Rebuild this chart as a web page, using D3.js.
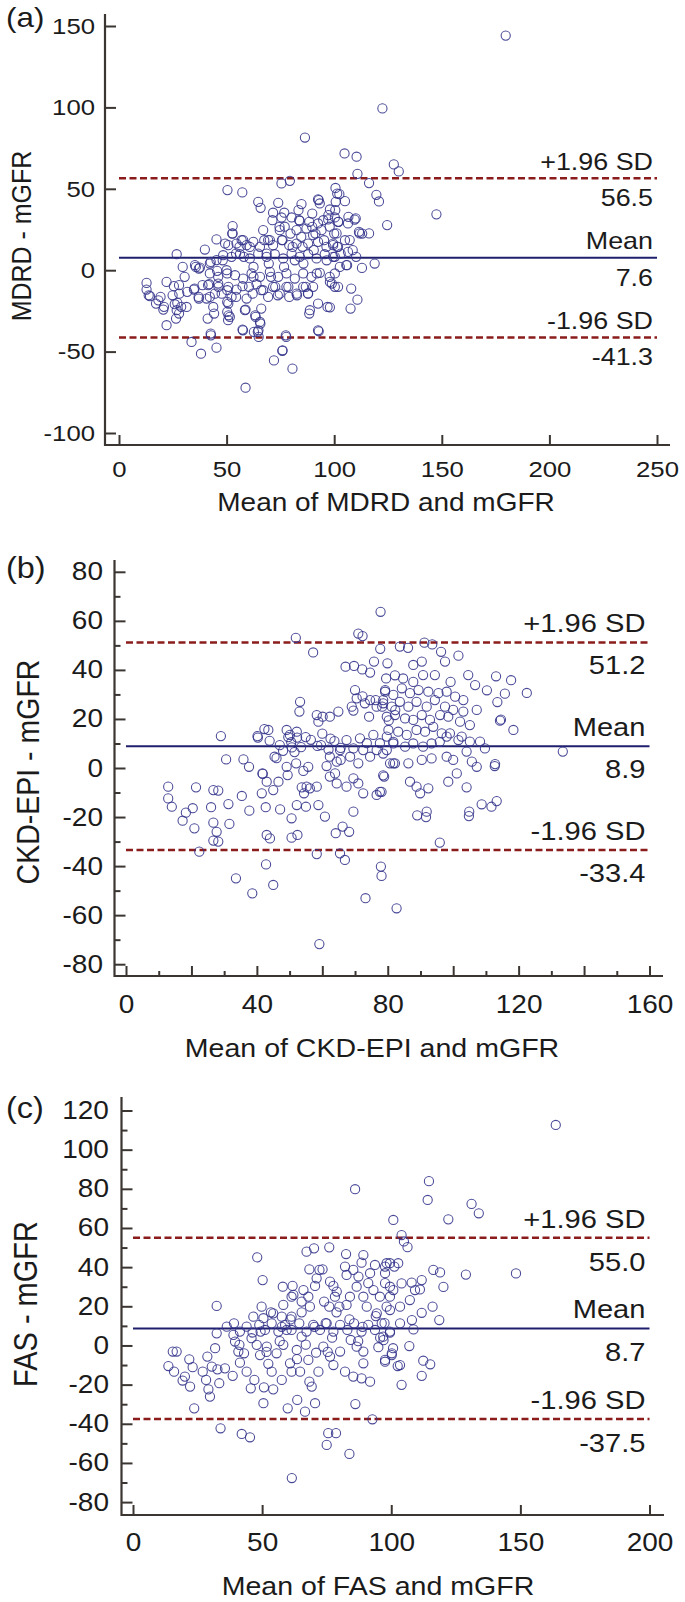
<!DOCTYPE html>
<html>
<head>
<meta charset="utf-8">
<script src="https://cdn.jsdelivr.net/npm/d3@7"></script>
<style>
  body { margin: 0; background: #fff; }
  text { font-family: "Liberation Sans", Arial, sans-serif; fill: #1b1b1b; }
</style>
</head>
<body>
<svg id="chart" width="685" height="1602"></svg>
<script>
// ---- data: [mean of the two methods, difference] ----
let mdrdPoints = [
  [179.7,144.1],[122.4,99.4],[86.4,81.5],[104.8,71.7],[110.4,69.7],[127.7,65],[130,60.7],[110.8,59.2],[116.2,53.5],[119.6,46.3],
  [120.8,42.2],[147.5,34.3],[124.6,27.7],[116.2,22.6],[118.8,4.1],[112.9,1.4],[107.9,-11.3],[110.8,-18.1],[107.6,-23.6],[101.8,-10.2],[98,-22.8],
  [50.4,49.2],[57.3,47.8],[75.5,53.3],[79.4,54.9],[64.7,42],[65.8,38.3],[71.6,35.3],[74,41.4],[76.8,35.3],[84.8,40.6],[83.4,36.9],
  [92.5,43.5],[93.3,41],[98,37.3],[100.7,42],[101.4,47.1],[102.4,46.7],[105,42.4],[100.6,50.5],
  [71.3,30.7],[75.5,32.4],[80.2,32.4],[84,30.3],[88.4,29.7],[92.5,28.7],[97.2,31.2],[100.3,32.4],[52.8,27.1],[52.8,22.6],[45.3,18.9],
  [39.9,12.7],[67,24.6],[70.1,18.5],[74.7,24.6],[77,26.7],[82.5,24.6],[87.1,25.6],[90.2,21.5],[94.1,24.6],[97.9,26.7],
  [50.8,15.4],[54.6,16.4],[57.7,18.5],[59.3,15.4],[62.4,17.4],[65.5,14.4],[69.3,18.5],[71.6,15.4],[76,18.5],[79.1,15.4],[82.5,16.4],
  [85.3,14.4],[87.9,16.4],[92.5,17.4],[96.4,14.4],[99.5,16.4],
  [26.8,9.8],[29.6,2],[35.3,3.1],[37.6,1.6],[42.2,4.1],[45.3,6.2],[48.4,9.2],[52.3,8.2],[56.2,9.8],[60.8,7.2],[64.7,10.2],[68.6,8.2],
  [72.4,9.8],[76.3,7.2],[80.2,10.2],[84,8.2],[87.9,9.8],[91.8,7.2],[95.6,9.8],[99.5,8.2],
  [42.2,-2],[46.1,-4.1],[50,0],[53.9,-3.1],[57.7,-5.1],[61.6,-2],[65.5,-4.1],[70.1,-1],[74,-4.1],[77.8,-2],[81.7,-5.1],[85.6,-2],
  [89.4,-4.1],[93.3,-1.6],[97.9,-4.1],[100.3,-10.2],
  [12.8,-7.8],[12.8,-11.9],[14.4,-16],[17.2,-20.5],[18.3,-18.5],[20.6,-24.2],[22.1,-7.2],[25.5,-9.8],[28,-14.4],[27.1,-20.1],[26.8,-24.6],
  [26.5,-29.7],[22.1,-33.8],[31.7,-13.3],[31.4,-22.6],[34.8,-11.9],[37,-16.4],[38.8,-9.2],[41.9,-8.6],[40.7,-17.4],[44.6,-14.4],[43.8,-22.6],
  [46.1,-8.2],[47.7,-14.4],[50.8,-10.2],[50.8,-20.5],[50.3,-25.6],[52.3,-16.4],[54.6,-11.9],[57.4,-9.8],[59.3,-17.4],[58.5,-24.6],[62.1,-14.4],
  [63.9,-8.6],[63.3,-27.7],[65.5,-31.8],[64.8,-36.9],[62.7,-37.9],[67,-12.3],[69.3,-16.4],[71.6,-10.2],[74.7,-14.4],[77.8,-10.2],[79.1,-16.4],
  [82.5,-14.4],[85.6,-10.2],[87.9,-14.4],[88.7,-24.6],[90.2,-10.2],[92.5,-20.5],[96.9,-22.6],[92.5,-36.9],[77.5,-40],[76,-49.2],[72,-55.4],
  [80.6,-60.5],[58.8,-72.2],[38.1,-51.3],[33.7,-44.1],[45.3,-47.6],[42.7,-40],[57.4,-36.5],[41.2,-29.7],[51.5,-28.7],
  [30.5,-4.1],[35.7,2],[42.6,5.1],[49.3,16.4],[54.4,10.2],[56,14.3],[57,18.4],[58,8.2],[60.8,14.3],[62.5,2],[62.5,-4.1],[67.5,18.4],
  [68.6,10.2],[69.6,4.1],[70.6,-4.1],[72.6,-10.2],[73.8,-15.4],[74.6,26.6],[75.7,18.4],[76.7,2],[78.7,-10.2],[79.7,22.5],[80.7,14.3],
  [81.7,6.1],[82.7,-15.4],[83.7,30.7],[84.7,20.5],[85.7,4.1],[86.8,-10.2],[87.8,-14.3],[88.4,-26.6],[89.8,26.6],[90.5,12.3],[91.3,22.5],
  [91.9,-2],[92.8,-37.5],[94.9,30.7],[95.3,18.4],[96.5,6.1],[98.9,-8.2],[100,22.5],[100.5,36.9],[101.4,14.3],[102,29.7],[102.6,2],
  [103,10.2],[105,18.4],[106,3.1],[110,31.8],[111.5,23.6],[113,22.5],[108.6,12.3],[106.6,32.8],[97.3,33.8],[92.8,43],[89.8,34.8],
  [13.8,-15.4],[19.3,-16.4],[20.9,-22.5],[24.9,-15.4],[25.9,-20.9],[27.9,-9.2],[28.9,-22.5],[27.9,-26.6],[35.1,-11.3],[37.1,1],[37.1,-17.4],
  [41.4,-9.2],[42.2,-16.4],[42.6,-38.9],[44.2,-26.6],[45.6,-0.4],[46.2,-10.2],[48.2,6.1],[50.3,-2],[50.3,-12.3],[50.9,-27.7],[50.7,-30.7],
  [50.3,-19.5],[52.6,22.5],[54.4,-16.4],[57.6,-36.9],[58.8,-24.2],[60.4,-10.2],[63.5,-28.7],[64.5,-37.9],[64.9,-41],[65.7,-32.8],[66.1,-23.6],
  [66.1,-12.3],[75.9,-49.6],[77.7,-41],
  [101.8,29.7],[109.5,31.1],[111.8,22.6],[106.4,28.7],[107.2,18.5],[101.1,22.6],[99.5,15.4],[101.8,14.4],[106.4,11.3],[110.2,8.2],
  [100.3,8.2],[105.6,3.1],[100.3,-2],[98,-7.2]
]

let ckdPoints = [
  [57.2,47.1],[67.1,41.3],[69.7,41.6],[72.2,40.2],[74.6,38.9],[75.8,43.4],[53.2,27],[53,23],[58.3,21.6],[60.1,20.9],[62.3,20.9],[64.9,23],
  [58.8,18.9],[70,31.8],[70.5,28.4],[69.5,23.4],[73,26.4],[74.6,27.7],[76.6,25],[78.6,27.7],[79.5,36.5],[82.2,37.8],[79.2,31.1],
  [49.1,15.5],[50.1,13.5],[52.2,14.8],[43.5,15.5],[40.2,13],[29,13],[30.6,3.5],[35.9,3.5],[37.6,0.5],[41.8,-2.4],[43,-5.6],[45,-9],
  [46.6,-5.6],[49.1,0.5],[49.4,-2.9],[52,1.9],[54.2,-1.2],[55.7,0.5],[54.4,-10.3],[56.2,-8.3],[58.3,-7.6],[61.3,0.8],[62.3,4.6],[64.4,2.6],
  [65.4,7.3],[67.4,11.4],[69.5,8],[71.5,12.1],[73.6,10.1],[75.6,13.5],[77.6,10.1],[79.7,12.8],[81.7,10.7],[80.7,1.9],[82.2,1.9],[79.7,7.3],
  [76.6,7.3],[74.6,4.6],[72.5,7.3],[71,1.9],[68.5,4.6],[65.6,3.3],[63.9,-2.2],[64.4,-6.3],[62.3,-3.5],[67.4,-7.6],[69.5,-4.2],[71,-6.3],
  [72.5,-10.3],[76.6,-11],[78.1,-9.7],[78.9,-3.5],
  [12.9,-7.6],[12.9,-12.4],[14,-15.8],[17.3,-21.5],[18.3,-18.2],[20.4,-16.4],[20.9,-24.6],[21.4,-7.9],[26,-16],[26.7,-9],[28.2,-9.2],
  [26.7,-22.3],[27.7,-26],[26.7,-29.6],[28.2,-30],[31.3,-14.7],[31.6,-22.8],[22.4,-34.1],[35.4,-11.4],[37.7,-17.4],[41.7,-2.2],[41.5,-10.3],
  [42.7,-16],[43,-27.3],[44,-28.7],[47.1,-16.9],[50.6,-20.5],[50.6,-28.4],[52.4,-27.3],[52.2,-15.1],[55,-15.8],[53.7,-7.9],[55.2,-7.6],
  [58.8,-15.1],[60.8,-19.8],[64.1,-26.6],[66.2,-23.9],[68.2,-26],[69.5,-17.8],[58.3,-35.1],[65.4,-34.8],[66.9,-37.5],[77.9,-40.2],[78.1,-44],
  [73.2,-53.1],[82.7,-57.2],[42.8,-39.3],[33.6,-45],[38.6,-51.1],[45,-47.7],[59.1,-71.8],
  [77.8,63.7],[83.7,49.5],[91.2,51.1],[96.3,47.4],[101.6,45.8],[97.5,43.4],[90.4,43.4],[87.8,42],[84.7,36.5],[87.8,35.1],[90.8,37.9],
  [94.4,37.9],[99.2,35.1],[104.6,37.9],[106.7,33.8],[113.1,37.4],[117.7,35.8],[110.3,31.7],[113.5,26.9],[115.8,30.3],[122.5,30.6],
  [114.3,19.3],[118.4,15.5],
  [79.2,31.8],[81.7,29.8],[84.3,32.5],[86.8,30.5],[89.4,31.8],[92.4,31.1],[95.5,30.5],[98,31.1],[100.6,29.1],[103.1,27.7],[78.6,26.4],
  [81.2,25],[83.7,27],[86.3,25],[88.8,27],[91.9,25],[94.4,27.7],[97.5,25],[100,23.7],[103.1,23],[79.7,20.9],[82.2,21.6],[85.3,20.2],
  [87.8,19.6],[90.4,21.6],[92.9,19.6],[96,21.6],[98.5,20.9],[102.1,18.9],[105.1,17.5],[107.2,23.7],[80.2,15.5],[83.2,14.8],[85.8,13.5],
  [88.8,15.5],[91.4,14.8],[93.9,16.8],[96.5,14.1],[99,14.1],[102.6,12.8],[105.1,10.8],[108.2,10.8],[109.7,8],[81.7,10],[85.3,8.7],
  [87.8,10],[90.8,8.7],[93.4,10],[95.9,10.7],[98,12.8],[101.6,11.4],[104.1,6.7],
  [133.5,6.7],[78.6,5.9],[81.7,1.9],[86.3,1.9],[90.4,3.3],[93.4,3.9],[98,4.6],[100,3.3],[105.7,2.6],[107.2,0.5],[112.8,1.6],[101.1,-2.2],
  [98.5,-5.6],[104.1,-7.9],[92.4,-8.3],[88.8,-7.6],[86.8,-5.6],[89.9,-10.3],[78.6,-3],[77.6,-9.7],[91.9,-17.8],[104.9,-17.8],[108.7,-14.8],
  [111.7,-15.8],[113.3,-13.5],[95.9,-30.4],
  [51.9,53.1],[71,54.8],[72.3,53.8],[77.7,48.6],[86.2,49],[93.6,50.4],[79.9,42.7],[114.6,19.7],[112.7,0.8],[89,-19.3],[91.7,-20],
  [104.8,-19.6],[50.5,10.5],[51.5,6.5],[53.5,8.5],[48,7],[46,4],[56.5,11.5],[60,14],[62.5,12],[58.5,9],
  [40.3,12.4],[42.3,15.9],[43.9,11.1],[45.4,4.6],[47,9.3],[49.6,12.6],[50.7,8.4],[52.3,12.4],[54.9,12.6],[59.6,9.3],[61.9,7.5],
  [63.7,11],[65.6,8.2],[69,25],[72.3,29.2],[74.3,20.9],[76.3,27.7],[78.3,25],[80.3,19.4],[82.3,23.6]
]

let fasPoints = [
  [86,79.8],[100.8,64.1],[48.1,45],[50.2,33.4],[32.4,20.2],[67.2,47.9],[70.1,49.6],[76,50.1],[82.5,46.7],[89.2,46.2],[88.5,42.3],
  [82.1,40.3],[82.7,36],[85.3,38.6],
  [68.3,38.9],[72.2,38.6],[73.4,38.9],[71.1,34.3],[70.5,30.4],[61.8,30.4],[62.1,25.8],[66,28.3],[67.9,24.9],[65.3,22.4],[68.5,19.8],
  [74,22.4],[76.3,32.6],[77.6,30.4],[78.9,27.5],[78.2,24.9],[76,19.8],[79.9,19.8],[82.7,20.7],[84,24.9],[86.6,30],[89.2,24.9],[90.5,19.8],
  [93.1,28.3],[95.6,24.9],[98.2,19.8],[94.4,16.4],[97.6,31.8],[99.5,30],[101.2,40.3],[99.5,42],[97.6,40.3],[93.7,41.1],[91.8,36.9],
  [87.3,35.2],[91.1,31.8],
  [13.7,-10.5],[15.9,-13.4],[15.4,-3.1],[19.2,-17.9],[20.1,-15.9],[22.1,-21],[21.8,-7.1],[23.1,-11.1],[23.7,-32.1],[27,-13.4],[28.8,-5.7],
  [28.3,-17.6],[29.2,-22.4],[29.8,-26.1],[30.5,-10.8],[31.8,-1.4],[32.7,-12.2],[33.4,-19.3],[35.6,-11.7],[33.9,-42.3],[38.6,-15.5],
  [38.9,5.4],[40.8,-3.1],[41.4,-8.8],[42.1,-45.2],[43,-4],[44,-13.4],[45.3,-46.9],[45.6,-21.9],[45.9,3.7],[47,-17.6],[47.9,0.3],
  [49.2,-4.9],[49.4,7.1],[50.5,-29.5],[50.7,-21.4],[51.8,-0.6],[52.4,-9.4],[53.7,-13.4],[54.3,-22.4],[55.6,-4],[57.6,-17.6],[58.2,0.3],
  [59.5,7.9],[59.9,-32.1],[60.8,-9.1],[61.4,-13.4],[63.4,-2.3],[63.6,-27.8],[64.7,-13.4],[65.3,4.5],[66.6,-33.8],[67.9,-7.4],[68.3,-18.5],
  [69.2,-21],[70.5,-29.5],[70.9,-3.7],[71.8,-13.4],[73.7,-0.6],[75,-50.8],[75.6,-44.8],[76.3,-5.7],[77.6,-10],[78.6,-44.8],[80.2,-3.1],
  [82.1,-13.4],[83.8,-55.4],[84.3,2.8],[85.3,-15.9],[86.1,-29.9],[86.6,-0.6],[89.2,-3.1],[89.2,-9.1],[88.5,-16.8],[91.8,-18.5],[92.7,-37.7],
  [95,-0.9],[96.9,4.5],[97.6,-7.4],[100.2,-4],[102.5,-10.5],[61.5,-67.7],
  [39.1,11.3],[41.4,7.1],[44,9.6],[46.3,6.6],[48.9,10.5],[51.1,7.9],[53.7,11.3],[56.3,7.1],[58.9,10.5],[61.4,7.9],[64.4,11.3],[67.2,7.1],
  [69.8,10.5],[72.4,7.9],[75,11.3],[77.6,7.1],[80.2,10.5],[83,7.9],[85.6,11.3],[88.5,7.1],[91.1,10.5],[93.7,7.9],[96.3,11.3],[99.5,7.1],
  [32.4,6.2],[36.3,9.6],[16.9,-3.1],[39.5,2],
  [58.2,20.7],[61.4,24.9],[58,30],[61.4,14.7],[54.3,16.4],[57.6,14.7],[50.5,13.9],[46.6,14.7],[49.8,19.8],[41.2,0.3],
  [163.7,112.6],[114.6,83.9],[114.1,74.3],[131.1,72.3],[133.9,67.5],[122.1,64.4],[104,56.4],[104.9,53.1],[106.3,50.2],[102.7,42],
  [98.2,42],[97.6,36.9],[116.3,38.6],[118.9,37.3],[120.2,29.9],[128.9,36.2],[148.3,36.8],[111.8,33.4],[107.9,32.1],[104,31.7],
  [100.8,28.3],[109.2,28.3],[111.1,28.6],[99.5,24.9],[107.2,23.2],[103.4,19.8],[116,19.8],[99.5,18.1],[111.8,16.7],[118.6,13],
  [103.4,11.3],[108,13],[108.6,8.2],[99.5,6.5],[97,2.7],[107,-0.3],[100.2,-4.9],[97.6,-8.3],[103.4,-10],[112.4,-7.8],[115.1,-9.6],
  [111.8,-15.5],[104,-20.1],
  [53.4,16.9],[57.6,9.5],[61,13.3],[65.3,16.9],[70.3,9.5],[74.6,11.4],[78.8,16.9],[83.8,13.3],[88.9,9.5],[94,15],[97.4,11.4],
  [56.8,2.2],[66.9,0.4],[77.1,4],[87.2,2.2],[95.7,4],[100.7,-1.4],[51.7,-3.3],[63.5,-7],[75.4,-3.3]
]

// upper limit, mean, lower limit
let mdrdLimits = [56.5, 7.6, -41.3]
let ckdLimits = [51.2, 8.9, -33.4]
let fasLimits = [55.0, 8.7, -37.5]
let limitNames = ['+1.96 SD', 'Mean', '-1.96 SD']

let mdrdTicksX = [0, 50, 100, 150, 200, 250]
let mdrdTicksY = [-100, -50, 0, 50, 100, 150]
let ckdTicksX = d3.range(0, 161, 20)
let ckdTicksY = d3.range(-80, 81, 20)
let fasTicksX = [0, 50, 100, 150, 200]
let fasTicksY = d3.range(-80, 121, 20)

// horizontal stretch of every text, as in the source raster
let SX = 1.12
let axisColor = '#3b3632'

let svg = d3.select('#chart')

let panels = [
  {
    tag: '(a)', pts: mdrdPoints, lim: mdrdLimits,
    xDomain: [0, 250], xRange: [119, 657], yDomain: [-100, 150], yRange: [433, 26],
    xTicks: mdrdTicksX, xMinor: [], xLabelEvery: 50, yTicks: mdrdTicksY, yMinor: [],
    left: 105, bottom: 445, top: 14, right: 670,
    yTitle: 'MDRD - mGFR', xTitle: 'Mean of MDRD and mGFR',
    tickFont: 23, labelFont: 24, titleFont: 25, yTitleFont: 25, tagFont: 28,
    yTitlePos: [21, 236], xTitlePos: [386, 511], tagY: 27,
    xPad: 15.7, yPad: 8.9, above: -8.5, below: 28
  },
  {
    tag: '(b)', pts: ckdPoints, lim: ckdLimits,
    xDomain: [0, 160], xRange: [126, 649.5], yDomain: [-80, 80], yRange: [964.2, 571.8],
    xTicks: ckdTicksX, xMinor: d3.range(10, 160, 20), xLabelEvery: 40,
    yTicks: ckdTicksY, yMinor: d3.range(-70, 80, 20),
    left: 114.5, bottom: 976, top: 560, right: 663,
    yTitle: 'CKD-EPI - mGFR', xTitle: 'Mean of CKD-EPI and mGFR',
    tickFont: 25, labelFont: 26, titleFont: 25.5, yTitleFont: 28.5, tagFont: 29,
    yTitlePos: [27, 772], xTitlePos: [372, 1057], tagY: 578,
    xPad: 19.2, yPad: 10.3, above: -10, below: 31.7
  },
  {
    tag: '(c)', pts: fasPoints, lim: fasLimits,
    xDomain: [0, 200], xRange: [133, 649.5], yDomain: [-80, 120], yRange: [1502.1, 1110.5],
    xTicks: fasTicksX, xMinor: [], xLabelEvery: 50,
    yTicks: fasTicksY, yMinor: d3.range(-70, 120, 20),
    left: 121.5, bottom: 1515, top: 1097, right: 664,
    yTitle: 'FAS - mGFR', xTitle: 'Mean of FAS and mGFR',
    tickFont: 25, labelFont: 26, titleFont: 25.5, yTitleFont: 29, tagFont: 29,
    yTitlePos: [25, 1304], xTitlePos: [378, 1595], tagY: 1118,
    xPad: 18.2, yPad: 11.2, above: -10, below: 33
  }
]

function addText(g, str, x, y, size, anchor, rotate) {
  return g
    .append('text')
    .attr('transform', `translate(${x},${y}) scale(${SX},1)` + (rotate ? ' rotate(-90)' : ''))
    .attr('text-anchor', anchor)
    .attr('dy', rotate ? '0.36em' : null)
    .attr('font-size', size)
    .text(str)
}

function styleAxis(g, p) {
  g.select('.domain').remove()
  g.attr('color', axisColor).attr('font-family', null).attr('font-size', p.tickFont)
  g.selectAll('.tick line').attr('stroke-width', 2)
  g.selectAll('.tick text').attr('fill', '#1b1b1b').attr('transform', `scale(${SX},1)`)
}

function drawPanel(p) {
  let g = svg.append('g')
  let x = d3.scaleLinear().domain(p.xDomain).range(p.xRange)
  let y = d3.scaleLinear().domain(p.yDomain).range(p.yRange)

  // limit lines first so the circles sit on top
  p.lim.forEach(function(v, i) {
    g.append('line')
      .attr('x1', x(p.xDomain[0])).attr('x2', x(p.xDomain[1]))
      .attr('y1', y(v)).attr('y2', y(v))
      .attr('stroke', i === 1 ? '#1f1f6e' : '#8b1c1c')
      .attr('stroke-width', i === 1 ? 2 : 2.5)
      .attr('stroke-dasharray', i === 1 ? null : '7,3.5')
  })

  g.append('g')
    .selectAll('circle')
    .data(p.pts)
    .join('circle')
    .attr('cx', d => x(d[0]))
    .attr('cy', d => y(d[1]))
    .attr('r', 4.6)
    .attr('fill', 'none')
    .attr('stroke', '#34348c')
    .attr('stroke-width', 1.05)
    .attr('opacity', 0.9)

  // axes: ticks point inwards, lines drawn by hand because they overshoot the scale range
  let yAxis = g.append('g')
    .attr('transform', `translate(${p.left},0)`)
    .call(d3.axisLeft(y).tickValues(p.yTicks).tickSize(-11).tickPadding(p.yPad).tickFormat(d => String(d)))
  styleAxis(yAxis, p)
  if (p.yMinor.length) {
    let yMin = g.append('g')
      .attr('transform', `translate(${p.left},0)`)
      .call(d3.axisLeft(y).tickValues(p.yMinor).tickSize(-6).tickFormat(''))
    styleAxis(yMin, p)
  }

  let xAxis = g.append('g')
    .attr('transform', `translate(0,${p.bottom})`)
    .call(d3.axisBottom(x).tickValues(p.xTicks).tickSize(-10).tickPadding(p.xPad)
      .tickFormat(d => (d % p.xLabelEvery === 0 ? String(d) : '')))
  styleAxis(xAxis, p)
  if (p.xMinor.length) {
    let xMin = g.append('g')
      .attr('transform', `translate(0,${p.bottom})`)
      .call(d3.axisBottom(x).tickValues(p.xMinor).tickSize(-5).tickFormat(''))
    styleAxis(xMin, p)
  }

  g.append('path')
    .attr('d', `M${p.left},${p.top}V${p.bottom}H${p.right}`)
    .attr('fill', 'none')
    .attr('stroke', axisColor)
    .attr('stroke-width', 2.2)

  // limit labels, right aligned at the end of the lines
  let lx = x(p.xDomain[1]) - 4
  p.lim.forEach(function(v, i) {
    addText(g, limitNames[i], lx, y(v) + p.above, p.labelFont, 'end')
    addText(g, d3.format('.1f')(v).replace('\u2212', '-'), lx, y(v) + p.below, p.labelFont, 'end')
  })

  addText(g, p.tag, 6, p.tagY, p.tagFont, 'start')
  addText(g, p.xTitle, p.xTitlePos[0], p.xTitlePos[1], p.titleFont, 'middle')
  addText(g, p.yTitle, p.yTitlePos[0], p.yTitlePos[1], p.yTitleFont, 'middle', true)
}

panels.forEach(drawPanel)
</script>
</body>
</html>
